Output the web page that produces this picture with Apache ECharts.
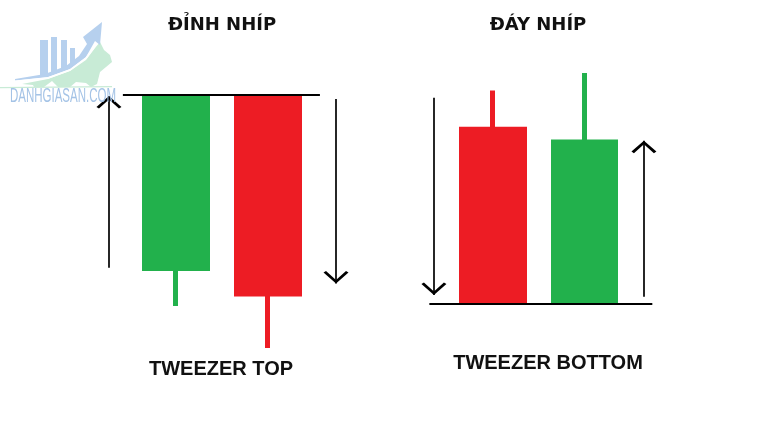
<!DOCTYPE html>
<html>
<head>
<meta charset="utf-8">
<script src="https://cdn.jsdelivr.net/npm/echarts@6/dist/echarts.min.js"></script>
<style>html,body{margin:0;padding:0;background:#fff}#c{width:768px;height:425px}</style>
</head>
<body>
<div id="c"></div>
<script>
// ---- data (x = time slot, y = price) ----
const candleNames = ['Đỉnh nhíp - nến 1', 'Đỉnh nhíp - nến 2', 'Đáy nhíp - nến 1', 'Đáy nhíp - nến 2'];
const candleX     = [7.34, 11.16, 20.54, 24.35];
const candleOpen  = [36.8, 77.2, 69.6, 29.2];
const candleClose = [77.2, 30.8, 29.2, 66.6];
const candleLow   = [28.0, 18.1, 29.2, 29.2];
const candleHigh  = [77.2, 77.2, 78.7, 82.8];

// support / resistance levels: [xStart, xEnd, price]
const levelLines = [[5.12, 13.33, 77.8], [17.89, 27.18, 28.6]];
// trend arrows: [x, priceFrom, priceTo]
const trendArrows = [[4.54, 37.0, 77.4], [14.0, 76.7, 33.3], [18.08, 77.0, 30.6], [26.83, 30.2, 66.9]];

const titles = ['ĐỈNH NHÍP', 'ĐÁY NHÍP'];
const captions = ['TWEEZER TOP', 'TWEEZER BOTTOM'];
const watermark = 'DANHGIASAN.COM';

const GREEN = '#22B14C', RED = '#ED1C24';
const chevron = 'path://M5,0 L5.01,0 L5,0 Z M5,7 L10,13.1 L9.0,14 L5,9.0 L1.0,14 L0,13.1 Z';

const candleData = candleX.map((x, i) => ({
  name: candleNames[i],
  value: [x, candleOpen[i], candleClose[i], candleLow[i], candleHigh[i]]
}));

const BLUE_W = '#b6d0ee', GREEN_W = '#c8ebd6';

const chart = echarts.init(document.getElementById('c'), null, {renderer: 'canvas'});
chart.setOption({
  animation: false,
  backgroundColor: '#fff',
  grid: {left: 0, right: 0, top: 0, bottom: 0},
  xAxis: {type: 'value', min: 0, max: 32, show: false},
  yAxis: {type: 'value', min: 0, max: 100, show: false},
  graphic: [
    // watermark logo
    {type: 'group', z: 0, silent: true, children: [
      {type: 'polygon', z: 1, shape: {points: [[22,84],[48,79],[70,71],[86,60],[95,48],[100,42],[104,50],[110,55],[112,62],[106,67],[100,72],[97,84],[91,87],[86,83],[76,82],[70,87],[58,87],[52,81],[44,87],[34,87],[33,85]]}, style: {fill: GREEN_W}},
      {type: 'polygon', z: 1, shape: {points: [[0,87],[112,86],[112,87.3],[0,88.3]]}, style: {fill: GREEN_W}},
      {type: 'rect', z: 2, shape: {x: 40, y: 40, width: 8, height: 36}, style: {fill: BLUE_W}},
      {type: 'rect', z: 2, shape: {x: 51, y: 37, width: 6, height: 36}, style: {fill: BLUE_W}},
      {type: 'rect', z: 2, shape: {x: 61, y: 40, width: 6, height: 29}, style: {fill: BLUE_W}},
      {type: 'rect', z: 2, shape: {x: 70, y: 48, width: 5, height: 17}, style: {fill: BLUE_W}},
      {type: 'polygon', z: 2, shape: {points: [[15,79],[45,74],[66,66],[79,56],[87,44],[83,37],[102,22],[100,45],[95,41],[86,57],[70,69],[48,77],[15,80.5]]}, style: {fill: BLUE_W}},
      {type: 'polyline', z: 3, shape: {points: [[14,81.5],[48,78],[70,70],[86,58],[96,45]]}, style: {stroke: '#fff', lineWidth: 1.5, fill: null}},
      {type: 'text', z: 4, x: 7, y: 96, scaleX: 0.575, originX: 7, style: {text: watermark, fill: '#a4c3e6', font: '20px "Liberation Sans", sans-serif', textVerticalAlign: 'middle'}}
    ]},
    {type: 'text', x: 222, y: 25, z: 10, style: {text: titles[0], fill: '#111', font: 'bold 18px "DejaVu Sans", sans-serif', textAlign: 'center', textVerticalAlign: 'middle'}},
    {type: 'text', x: 538, y: 25, z: 10, style: {text: titles[1], fill: '#111', font: 'bold 18px "DejaVu Sans", sans-serif', textAlign: 'center', textVerticalAlign: 'middle'}},
    {type: 'text', x: 221, y: 369, z: 10, style: {text: captions[0], fill: '#111', font: 'bold 20px "Liberation Sans", Arial, sans-serif', textAlign: 'center', textVerticalAlign: 'middle'}},
    {type: 'text', x: 548, y: 363, z: 10, style: {text: captions[1], fill: '#111', font: 'bold 20px "Liberation Sans", Arial, sans-serif', textAlign: 'center', textVerticalAlign: 'middle'}}
  ],
  series: [
    {
      type: 'candlestick',
      barWidth: 63,
      data: candleData,
      itemStyle: {color: GREEN, color0: RED, borderColor: GREEN, borderColor0: RED, borderWidth: 5},
      z: 2
    },
    {
      type: 'lines',
      coordinateSystem: 'cartesian2d',
      z: 3,
      symbol: ['none', 'none'],
      lineStyle: {color: '#000', width: 2, opacity: 1},
      data: levelLines.map(l => ({coords: [[l[0], l[2]], [l[1], l[2]]]}))
    },
    {
      type: 'lines',
      coordinateSystem: 'cartesian2d',
      z: 3,
      symbol: ['none', chevron],
      symbolSize: [18, 25],
      lineStyle: {color: '#000', width: 1.7, opacity: 1},
      itemStyle: {color: '#000'},
      data: trendArrows.map(a => ({coords: [[a[0], a[1]], [a[0], a[2]]]}))
    }
  ]
});
</script>
</body>
</html>
